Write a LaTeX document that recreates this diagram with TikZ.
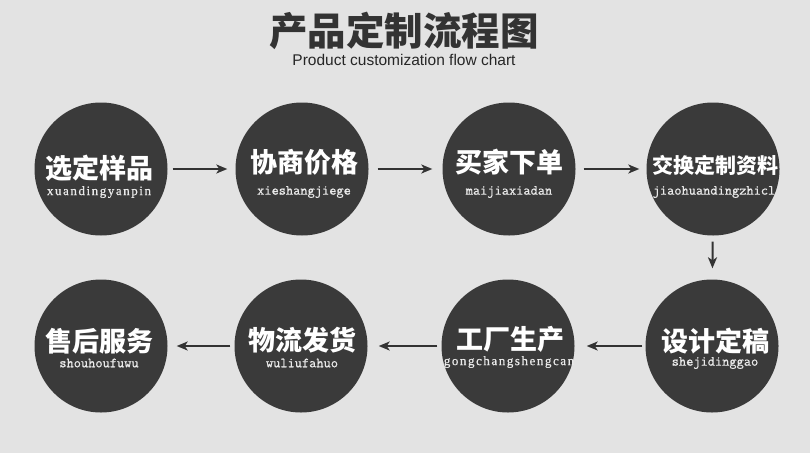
\documentclass[tikz,border=0pt]{standalone}
\usepackage{fontspec}
\usetikzlibrary{arrows.meta}
\newfontfamily\zh{Noto Sans CJK SC}
\newfontfamily\subfont{Liberation Sans}
\newfontfamily\pinser[LetterSpace=12,FakeBold=0.6]{Liberation Serif}
\newfontfamily\pinmono[FakeBold=0.8]{Latin Modern Mono}
\definecolor{bgc}{HTML}{E3E3E3}
\definecolor{disc}{HTML}{3A3A3A}
\definecolor{ink}{HTML}{333333}
\definecolor{pin}{HTML}{EAEAEA}
\tikzset{
  disc/.style={circle,fill=disc,minimum size=133pt,inner sep=0pt},
  zhtext/.style={text=white,font=\zh\bfseries\fontsize{27}{27}\selectfont,inner sep=0pt,anchor=center},
  zhsmall/.style={text=white,font=\zh\bfseries\fontsize{21}{21}\selectfont,inner sep=0pt,anchor=center},
  pinm/.style={text=pin,font=\pinmono\fontsize{14}{14}\selectfont,inner sep=0pt,anchor=center},
  pins/.style={text=pin,font=\pinser\fontsize{13}{13}\selectfont,inner sep=0pt,anchor=center},
  flow/.style={draw=ink,line width=2pt,-{Stealth[length=11pt,width=9pt,inset=3pt]}},
}
\begin{document}
\begin{tikzpicture}[x=1pt,y=-1pt]
\fill[bgc] (0,0) rectangle (810,453);
\useasboundingbox (0,0) rectangle (810,453);
% title
\node[text=ink,font=\zh\bfseries\fontsize{38.5}{38.5}\selectfont,inner sep=0pt] (title) at (404,31) {产品定制流程图};
\node[text=black!85,font=\subfont\fontsize{15.5}{15.5}\selectfont,inner sep=0pt] (sub) at (404,60) {Product customization flow chart};
% discs
\node[disc] (c1) at (101,169) {};
\node[disc] (c2) at (302,169) {};
\node[disc] (c3) at (509,169) {};
\node[disc] (c4) at (713,169) {};
\node[disc] (c8) at (712,346) {};
\node[disc] (c7) at (508,346) {};
\node[disc] (c6) at (301,346) {};
\node[disc] (c5) at (101,346) {};
% texts
\node[zhtext] (t1) at (99,168) {选定样品};
\node[pins] (p1) at (99,192) {xuandingyanpin};
\node[zhtext] (t2) at (304,162) {协商价格};
\node[pinm] (p2) at (304,192) {xieshangjiege};
\node[zhtext] (t3) at (509,162) {买家下单};
\node[pinm] (p3) at (509,192) {maijiaxiadan};
\node[zhsmall] (t4) at (715,165) {交换定制资料};
\node[pinm] (p4) at (714,192) {jiaohuandingzhicl};
\node[zhtext] (t8) at (715,341) {设计定稿};
\node[pinm] (p8) at (715,363) {shejidinggao};
\node[zhtext] (t7) at (510,339) {工厂生产};
\node[pins] (p7) at (509,362) {gongchangshengcan};
\node[zhtext] (t6) at (302,340) {物流发货};
\node[pinm] (p6) at (302,363) {wuliufahuo};
\node[zhtext] (t5) at (99,341) {售后服务};
\node[pinm] (p5) at (99,363) {shouhoufuwu};
% arrows
\draw[flow,shorten <=5pt,shorten >=8pt] (c1) -- (c2);
\draw[flow,shorten <=9pt,shorten >=10pt] (c2) -- (c3);
\draw[flow,shorten <=8pt,shorten >=7pt] (c3) -- (c4);
\draw[flow,shorten <=6pt,shorten >=11pt] (c4) -- (c8);
\draw[flow,shorten <=3pt,shorten >=12pt] (c8) -- (c7);
\draw[flow,shorten <=4pt,shorten >=11pt] (c7) -- (c6);
\draw[flow,shorten <=4pt,shorten >=9pt] (c6) -- (c5);
\end{tikzpicture}
\end{document}
